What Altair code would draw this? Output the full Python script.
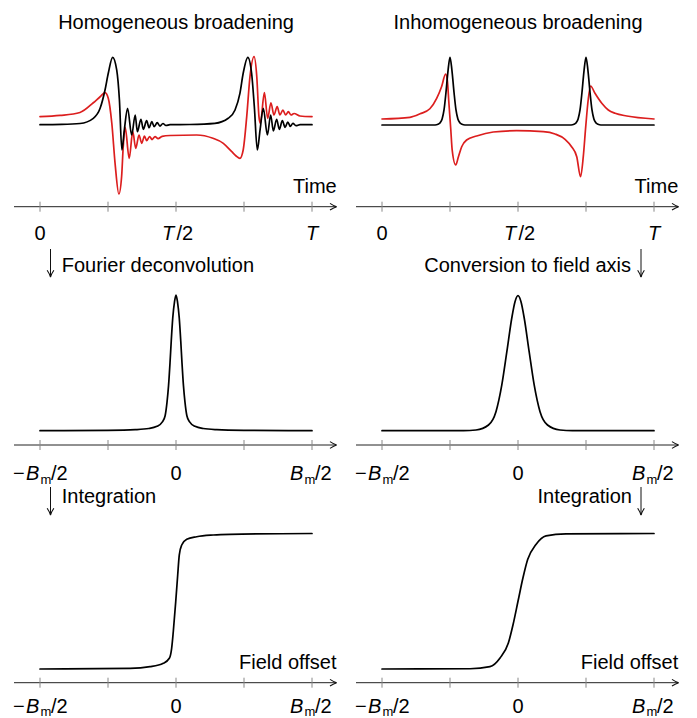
import altair as alt
import pandas as pd

# ---------------- data ----------------
# time axis in units of T, signal normalised to the black peak
TL_BLACK_T = [0, 0.08, 0.147, 0.196, 0.221, 0.239, 0.251, 0.267, 0.282, 0.292, 0.301, 0.310, 0.322, 0.337,
              0.350, 0.358, 0.371, 0.380, 0.392, 0.401, 0.411, 0.420, 0.431, 0.441, 0.452, 0.463, 0.478,
              0.55, 0.643, 0.692, 0.717, 0.735, 0.747, 0.764, 0.778, 0.788, 0.799, 0.809, 0.821, 0.836,
              0.848, 0.858, 0.870, 0.880, 0.891, 0.901, 0.911, 0.920, 0.930, 0.941, 0.956, 1.0]
TL_BLACK_V = [0, 0.004, 0.018, 0.095, 0.243, 0.515, 0.763, 1.0, 0.812, 0.366, -0.375, -0.079, 0.243, -0.153,
              0.144, -0.104, 0.080, -0.068, 0.059, -0.045, 0.045, -0.030, 0.030, -0.020, 0.018, -0.012, 0,
              0.003, 0.02, 0.095, 0.218, 0.466, 0.763, 1.0, 0.763, 0.267, -0.375, -0.079, 0.243, -0.153,
              0.144, -0.093, 0.080, -0.068, 0.059, -0.039, 0.040, -0.024, 0.02, -0.015, 0, 0]

TL_RED_T = [0, 0.074, 0.147, 0.196, 0.221, 0.239, 0.251, 0.264, 0.276, 0.290, 0.300, 0.306, 0.313, 0.328,
            0.341, 0.352, 0.364, 0.374, 0.384, 0.392, 0.403, 0.412, 0.423, 0.434, 0.449, 0.478, 0.576,
            0.636, 0.674, 0.705, 0.721, 0.735, 0.747, 0.760, 0.772, 0.787, 0.797, 0.805, 0.810, 0.825,
            0.837, 0.849, 0.860, 0.872, 0.882, 0.893, 0.903, 0.913, 0.923, 0.934, 0.956, 1.0]
TL_RED_V = [0.119, 0.137, 0.181, 0.326, 0.415, 0.475, 0.392, 0.021, -0.573, -1.028, -0.772, -0.326, -0.039,
            -0.499, -0.104, -0.350, -0.153, -0.276, -0.168, -0.237, -0.175, -0.220, -0.178, -0.208, -0.172,
            -0.160, -0.153, -0.202, -0.276, -0.401, -0.464, -0.499, -0.375, 0.119, 0.712, 1.009, 0.712,
            0.119, 0.021, 0.475, 0.095, 0.326, 0.144, 0.267, 0.144, 0.218, 0.144, 0.193, 0.144, 0.166,
            0.129, 0.119]

TR_BLACK_T = [0, 0.195, 0.206, 0.213, 0.221, 0.228, 0.235, 0.243, 0.25, 0.257, 0.265, 0.272, 0.279, 0.287,
              0.294, 0.305, 0.695, 0.706, 0.713, 0.721, 0.728, 0.735, 0.743, 0.75, 0.757, 0.765, 0.772,
              0.779, 0.787, 0.794, 0.805, 1.0]
TR_BLACK_V = [0, 0, 0.010, 0.030, 0.089, 0.222, 0.473, 0.812, 1.0, 0.812, 0.473, 0.222, 0.089, 0.030,
              0.010, 0, 0, 0.010, 0.030, 0.089, 0.222, 0.473, 0.812, 1.0, 0.812, 0.473, 0.222,
              0.089, 0.030, 0.010, 0, 0]

TR_RED_T = [0, 0.103, 0.14, 0.176, 0.201, 0.219, 0.234, 0.240, 0.246, 0.253, 0.258, 0.271, 0.281, 0.293,
            0.311, 0.348, 0.409, 0.495, 0.593, 0.636, 0.673, 0.697, 0.716, 0.730, 0.740, 0.749, 0.758,
            0.767, 0.783, 0.808, 0.832, 0.857, 0.900, 1.0]
TR_RED_V = [0.089, 0.114, 0.165, 0.24, 0.394, 0.566, 0.753, 0.665, 0.321, -0.074, -0.369, -0.591, -0.468,
            -0.321, -0.222, -0.162, -0.103, -0.084, -0.099, -0.133, -0.211, -0.321, -0.468, -0.764,
            -0.468, -0.025, 0.369, 0.576, 0.468, 0.321, 0.222, 0.173, 0.133, 0.089]

# field axis in units of B_m/2
ML_F = [-1, -0.5, -0.3, -0.2, -0.14, -0.10, -0.08, -0.066, -0.055, -0.044, -0.035, -0.024, -0.011, 0,
        0.011, 0.024, 0.035, 0.044, 0.055, 0.066, 0.08, 0.10, 0.14, 0.2, 0.3, 0.5, 1]
ML_V = [0, 0.003, 0.008, 0.016, 0.032, 0.065, 0.11, 0.21, 0.33, 0.5, 0.66, 0.83, 0.95, 1,
        0.95, 0.83, 0.66, 0.5, 0.33, 0.21, 0.11, 0.065, 0.032, 0.016, 0.008, 0.003, 0]

MR_F = [-1, -0.4, -0.309, -0.217, -0.162, -0.119, -0.082, -0.046, -0.022, 0,
        0.022, 0.046, 0.082, 0.119, 0.162, 0.217, 0.309, 0.4, 1]
MR_V = [0, 0, 0.005, 0.042, 0.141, 0.339, 0.585, 0.833, 0.956, 1,
        0.956, 0.833, 0.585, 0.339, 0.141, 0.042, 0.005, 0, 0]

BL_F = [-1, -0.338, -0.191, -0.093, -0.049, -0.032, -0.020, -0.002, 0.0125, 0.024, 0.042, 0.079,
        0.152, 0.274, 0.397, 1]
BL_V = [0, 0.005, 0.017, 0.042, 0.079, 0.153, 0.275, 0.497, 0.694, 0.841, 0.915, 0.957,
        0.976, 0.989, 0.994, 1]

BR_F = [-1, -0.353, -0.206, -0.132, -0.071, -0.037, 0, 0.037, 0.071, 0.132, 0.206, 0.353, 1]
BR_V = [0, 0.002, 0.017, 0.081, 0.192, 0.325, 0.50, 0.675, 0.808, 0.919, 0.983, 0.997, 1]

TIME_TICKS = [0, 0.25, 0.5, 0.75, 1]
FIELD_TICKS = [-1, -0.5, 0, 0.5, 1]

# ---------------- layout / styles ----------------
FONT = "Liberation Sans"
FS = 20
W, H = 681, 710
L_RANGE = [32, 304]
R_RANGE = [374, 646]
TIME_DOM = [0, 1]
FIELD_DOM = [-1, 1]
RED = "#dc1e1e"
ARROW = "M-1,-0.5Q-0.4,-0.1,0,0Q-0.4,0.1,-1,0.5"
ONE = pd.DataFrame({"k": [0]})

layers = []


def xscale(dom, rng):
    return alt.Scale(domain=dom, range=rng)


def curve(xs, ys, dom, rng, yrng, color):
    df = pd.DataFrame({"x": xs, "y": ys})
    return alt.Chart(df).mark_line(color=color, strokeWidth=1.7, interpolate="monotone",
                                   strokeJoin="round", strokeCap="round").encode(
        x=alt.X("x:Q", scale=xscale(dom, rng), axis=None),
        y=alt.Y("y:Q", scale=alt.Scale(domain=[0, 1], range=yrng), axis=None))


def arrowhead(x, y, angle=0):
    return alt.Chart(ONE).mark_point(shape=ARROW, size=180, filled=False, opacity=1,
                                     strokeWidth=1.1, color="#111", angle=angle).encode(
        x=alt.value(x), y=alt.value(y))


def axis(dom, rng, ticks, y):
    out = []
    out.append(alt.Chart(ONE).mark_rule(color="#222", strokeWidth=1).encode(
        x=alt.value(rng[0] - 26), x2=alt.value(rng[1] + 24), y=alt.value(y)))
    out.append(arrowhead(rng[1] + 24.7, y))
    tdf = pd.DataFrame({"t": ticks})
    out.append(alt.Chart(tdf).mark_rule(color="#888", strokeWidth=1).encode(
        x=alt.X("t:Q", scale=xscale(dom, rng), axis=None),
        y=alt.value(y - 5), y2=alt.value(y + 5)))
    return out


def label(text, x, y, align="left", italic=False, size=FS):
    return alt.Chart(ONE).mark_text(text=text, align=align, baseline="alphabetic", font=FONT,
                                    fontSize=size, fontStyle="italic" if italic else "normal",
                                    color="black").encode(x=alt.value(x), y=alt.value(y))


def tick_label(text, t, dom, rng, y, dx=0, dy=0, align="left", italic=False, size=FS):
    df = pd.DataFrame({"t": [t]})
    return alt.Chart(df).mark_text(text=text, align=align, baseline="alphabetic", font=FONT,
                                   fontSize=size, fontStyle="italic" if italic else "normal",
                                   dx=dx, dy=dy, color="black").encode(
        x=alt.X("t:Q", scale=xscale(dom, rng), axis=None), y=alt.value(y))


def time_labels(rng, y):
    return [
        tick_label("0", 0, TIME_DOM, rng, y, align="center"),
        tick_label("T", 0.5, TIME_DOM, rng, y, dx=-14, italic=True),
        tick_label("/2", 0.5, TIME_DOM, rng, y, dx=0.5),
        tick_label("T", 1, TIME_DOM, rng, y, dx=0, align="center", italic=True),
    ]


def field_labels(rng, y, sub_dy=4):
    return [
        tick_label("\u2212", -1, FIELD_DOM, rng, y, dx=-27),
        tick_label("B", -1, FIELD_DOM, rng, y, dx=-14, italic=True),
        tick_label("m", -1, FIELD_DOM, rng, y, dx=0.5, dy=sub_dy, size=13),
        tick_label("/2", -1, FIELD_DOM, rng, y, dx=11),
        tick_label("0", 0, FIELD_DOM, rng, y, align="center"),
        tick_label("B", 1, FIELD_DOM, rng, y, dx=-22, italic=True),
        tick_label("m", 1, FIELD_DOM, rng, y, dx=-7.5, dy=sub_dy, size=13),
        tick_label("/2", 1, FIELD_DOM, rng, y, dx=3),
    ]


def down_arrow(x, y0, y1):
    return [alt.Chart(ONE).mark_rule(color="#111", strokeWidth=1).encode(
        x=alt.value(x), y=alt.value(y0), y2=alt.value(y1)),
        arrowhead(x, y1, angle=90)]


# ---- titles ----
layers.append(label("Homogeneous broadening", 168, 21, align="center"))
layers.append(label("Inhomogeneous broadening", 510, 21, align="center"))

# ---- top row ----
TOP_AX = 198.7
layers.append(curve(TL_RED_T, TL_RED_V, TIME_DOM, L_RANGE, [116.7, 49.3], RED))
layers.append(curve(TL_BLACK_T, TL_BLACK_V, TIME_DOM, L_RANGE, [116.7, 49.3], "black"))
layers.append(curve(TR_RED_T, TR_RED_V, TIME_DOM, R_RANGE, [117, 49.3], RED))
layers.append(curve(TR_BLACK_T, TR_BLACK_V, TIME_DOM, R_RANGE, [117, 49.3], "black"))
layers += axis(TIME_DOM, L_RANGE, TIME_TICKS, TOP_AX)
layers += axis(TIME_DOM, R_RANGE, TIME_TICKS, TOP_AX)
layers.append(label("Time", 328.7, 185, align="right"))
layers.append(label("Time", 670.3, 185, align="right"))
layers += time_labels(L_RANGE, 232)
layers += time_labels(R_RANGE, 232)

# ---- arrows to middle row ----
layers += down_arrow(42.5, 241, 269)
layers.append(label("Fourier deconvolution", 53.7, 263.7))
layers += down_arrow(633, 241, 269)
layers.append(label("Conversion to field axis", 623, 263.7, align="right"))

# ---- middle row ----
MID_AX = 437
layers.append(curve(ML_F, ML_V, FIELD_DOM, L_RANGE, [422.7, 287], "black"))
layers.append(curve(MR_F, MR_V, FIELD_DOM, R_RANGE, [422.7, 287.7], "black"))
layers += axis(FIELD_DOM, L_RANGE, FIELD_TICKS, MID_AX)
layers += axis(FIELD_DOM, R_RANGE, FIELD_TICKS, MID_AX)
layers += field_labels(L_RANGE, 472)
layers += field_labels(R_RANGE, 472)

# ---- arrows to bottom row ----
layers += down_arrow(42.5, 479, 507)
layers.append(label("Integration", 53.7, 495.3))
layers += down_arrow(633, 479, 507)
layers.append(label("Integration", 624, 495.3, align="right"))

# ---- bottom row ----
BOT_AX = 674.7
layers.append(curve(BL_F, BL_V, FIELD_DOM, L_RANGE, [661, 525.5], "black"))
layers.append(curve(BR_F, BR_V, FIELD_DOM, R_RANGE, [661, 525.5], "black"))
layers += axis(FIELD_DOM, L_RANGE, FIELD_TICKS, BOT_AX)
layers += axis(FIELD_DOM, R_RANGE, FIELD_TICKS, BOT_AX)
layers.append(label("Field offset", 328.5, 661.3, align="right"))
layers.append(label("Field offset", 670.3, 661.3, align="right"))
layers += field_labels(L_RANGE, 704.5, sub_dy=3)
layers += field_labels(R_RANGE, 704.5, sub_dy=3)

chart = alt.layer(*layers).resolve_scale(x="independent", y="independent").properties(
    width=W, height=H, padding=0, autosize=alt.AutoSizeParams(type="none")
).configure_view(stroke=None)

chart.save("out.html", embed_options={"renderer": "svg", "actions": False})
